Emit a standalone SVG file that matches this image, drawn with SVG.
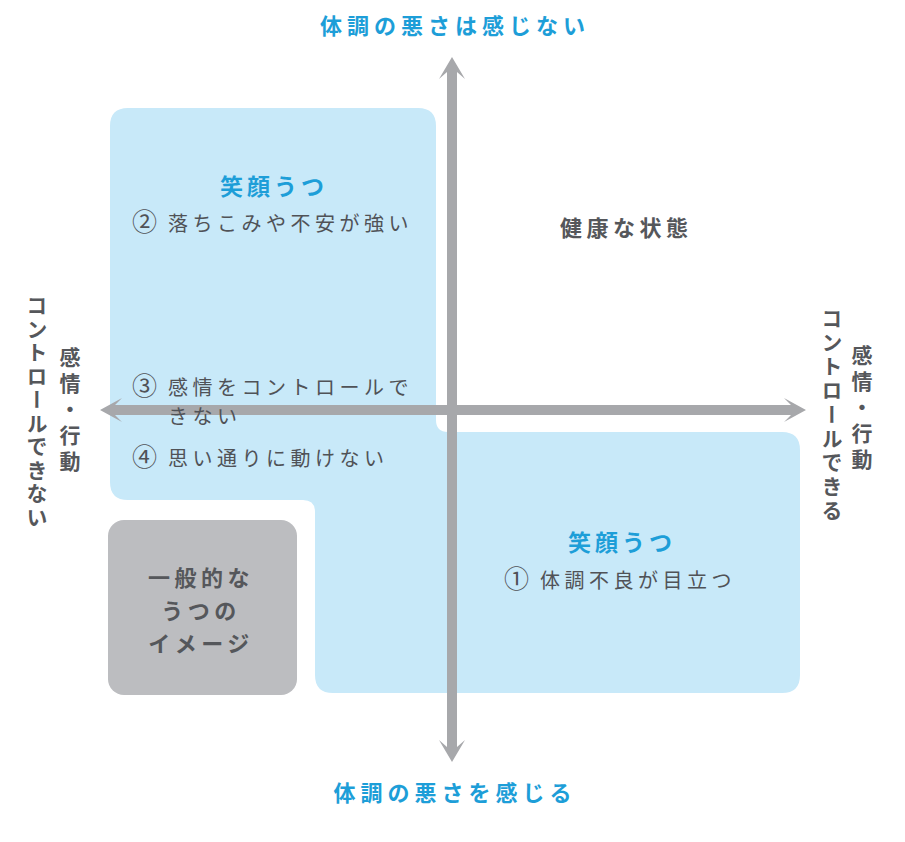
<svg xmlns="http://www.w3.org/2000/svg" width="905" height="842" viewBox="0 0 905 842">
<style>
text{font-family:"Noto Sans CJK JP","Noto Sans CJK SC",sans-serif;}
.ttl{fill:#1d9ed8;font-weight:700;font-size:22px;letter-spacing:5px;}
.hd{fill:#1d9ed8;font-weight:700;font-size:23px;letter-spacing:4px;}
.item{fill:#505257;font-size:20px;letter-spacing:4.5px;}
.num{font-size:25px;letter-spacing:2px;}
.bold{fill:#55575b;font-weight:700;font-size:22px;letter-spacing:4.5px;}
.vt{fill:#55575b;font-weight:700;font-size:21px;writing-mode:vertical-rl;}
</style>
<rect width="905" height="842" fill="#ffffff"/>
<g id="smile-depression-area">
<path d="M128,108 H418 Q436,108 436,126 V420 Q436,432 448,432 H782 Q800,432 800,450 V675 Q800,693 782,693 H333 Q315,693 315,675 V512 Q315,500 303,500 H128 Q110,500 110,482 V126 Q110,108 128,108 Z" fill="#c8e9f9"/>
</g>
<g id="general-depression">
<rect x="108" y="520" width="189" height="175" rx="16" fill="#bcbdc0"/>
<text class="bold" x="201" y="586" text-anchor="middle">一般的な</text>
<text class="bold" x="201" y="619" text-anchor="middle">うつの</text>
<text class="bold" x="201" y="652" text-anchor="middle">イメージ</text>
</g>
<g id="connectors">
<path d="M452,57 L465,79 L457,72 V747 L465,740 L452,762 L439,740 L447,747 V72 L439,79 Z" fill="#a7a8ab"/>
<path d="M100,410 L122,398 L115,405 H791 L784,398 L806,410 L784,422 L791,415 H115 L122,422 Z" fill="#a7a8ab"/>
</g>
<g id="label-top"><text class="ttl" x="455" y="34" text-anchor="middle">体調の悪さは感じない</text></g>
<g id="label-bottom"><text class="ttl" x="455" y="801" text-anchor="middle">体調の悪さを感じる</text></g>
<g id="label-left">
<text class="vt" x="70" y="347" style="letter-spacing:5px">感情・行動</text>
<text class="vt" x="37" y="295" style="letter-spacing:2.5px">コントロールできない</text>
</g>
<g id="label-right">
<text class="vt" x="862" y="345" style="letter-spacing:5px">感情・行動</text>
<text class="vt" x="832" y="308" style="letter-spacing:3px">コントロールできる</text>
</g>
<g id="upper-left-text">
<text class="hd" x="274" y="195" text-anchor="middle">笑顔うつ</text>
<text class="item" x="132" y="231"><tspan class="num">②</tspan><tspan> </tspan>落ちこみや不安が強い</text>
<text class="item" x="132" y="395"><tspan class="num">③</tspan><tspan> </tspan>感情をコントロールで</text>
<text class="item" x="168" y="424">きない</text>
<text class="item" x="132" y="466"><tspan class="num">④</tspan><tspan> </tspan>思い通りに動けない</text>
</g>
<g id="healthy"><text class="bold" x="560" y="236">健康な状態</text></g>
<g id="lower-right-text">
<text class="hd" x="622" y="551" text-anchor="middle">笑顔うつ</text>
<text class="item" x="504" y="588"><tspan class="num">①</tspan><tspan> </tspan>体調不良が目立つ</text>
</g>
</svg>
